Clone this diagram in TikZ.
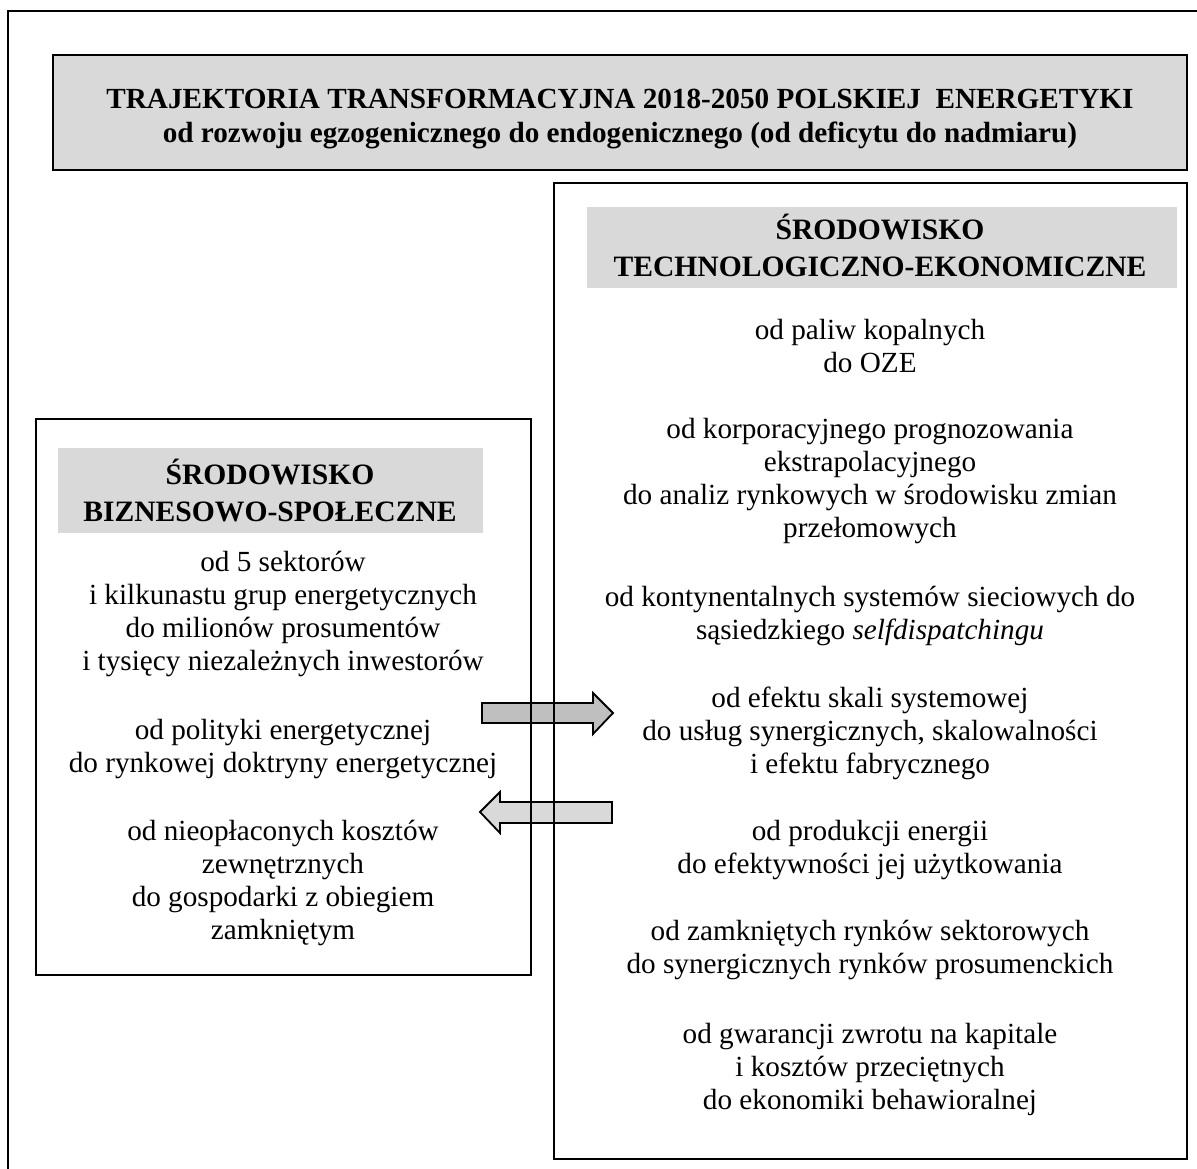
\documentclass[tikz,border=0pt]{standalone}
\usepackage{fontspec}
\setmainfont{Liberation Serif}
\begin{document}
\begin{tikzpicture}[x=1pt,y=-1pt,
  frame/.style={draw=black,line width=1.3pt},
  txt/.style={align=center,font=\fontsize{29.2}{33}\selectfont,inner sep=0pt},
  hd/.style={align=center,font=\fontsize{29.6}{37}\selectfont\bfseries,inner sep=0pt},
  ttl/.style={align=center,font=\fontsize{29.2}{34}\selectfont\bfseries,inner sep=0pt},
  arr/.style={draw=black,line width=1.8pt,line join=miter}]
\definecolor{headgray}{HTML}{D9D9D9}
\definecolor{arrowgray}{HTML}{BFBFBF}
\useasboundingbox (0,0) rectangle (1197,1169);
% outer frame (right and bottom lie outside the picture)
\draw[frame] (8,1175) -- (8,11) -- (1205,11);
% title
\draw[frame,fill=headgray] (53,55) rectangle (1187,170);
\node[ttl] (title) at (620,119) {TRAJEKTORIA TRANSFORMACYJNA 2018-2050 POLSKIEJ\ \ ENERGETYKI\\od rozwoju egzogenicznego do endogenicznego (od deficytu do nadmiaru)};
% arrows (drawn under box borders)
\draw[arr,fill=arrowgray] (482,703) -- (593,703) -- (593,693) -- (613,713) -- (593,734) -- (593,723) -- (482,723) -- cycle;
\draw[arr,fill=headgray] (612,802) -- (500,802) -- (500,792) -- (480,812) -- (500,833) -- (500,823) -- (612,823) -- cycle;
% right box
\draw[frame] (554,183) rectangle (1187,1159);
\fill[headgray] (587,207) rectangle (1177,288);
\node[hd] (rhead) at (880,245) {ŚRODOWISKO\\TECHNOLOGICZNO-EKONOMICZNE};
\node[txt] (r1) at (870,346) {od paliw kopalnych\\do OZE};
\node[txt] (r2) at (870,481) {od korporacyjnego prognozowania\\ekstrapolacyjnego\\do analiz rynkowych w środowisku zmian\\przełomowych};
\node[txt] (r3) at (870,616) {od kontynentalnych systemów sieciowych do\\sąsiedzkiego \textit{selfdispatchingu}};
\node[txt] (r4) at (870,733) {od efektu skali systemowej\\do usług synergicznych, skalowalności\\i efektu fabrycznego};
\node[txt] (r5) at (870,850) {od produkcji energii\\do efektywności jej użytkowania};
\node[txt] (r6) at (870,950) {od zamkniętych rynków sektorowych\\do synergicznych rynków prosumenckich};
\node[txt] (r7) at (870,1069) {od gwarancji zwrotu na kapitale\\i kosztów przeciętnych\\do ekonomiki behawioralnej};
% left box
\draw[frame] (36,419) rectangle (531,975);
\fill[headgray] (58,448) rectangle (483,533);
\node[hd] (lhead) at (270,491) {ŚRODOWISKO\\BIZNESOWO-SPOŁECZNE};
\node[txt] (l1) at (283,614) {od 5 sektorów\\i kilkunastu grup energetycznych\\do milionów prosumentów\\i tysięcy niezależnych inwestorów};
\node[txt] (l2) at (283,749) {od polityki energetycznej\\do rynkowej doktryny energetycznej};
\node[txt] (l3) at (283,883) {od nieopłaconych kosztów\\zewnętrznych\\do gospodarki z obiegiem\\zamkniętym};
\end{tikzpicture}
\end{document}
